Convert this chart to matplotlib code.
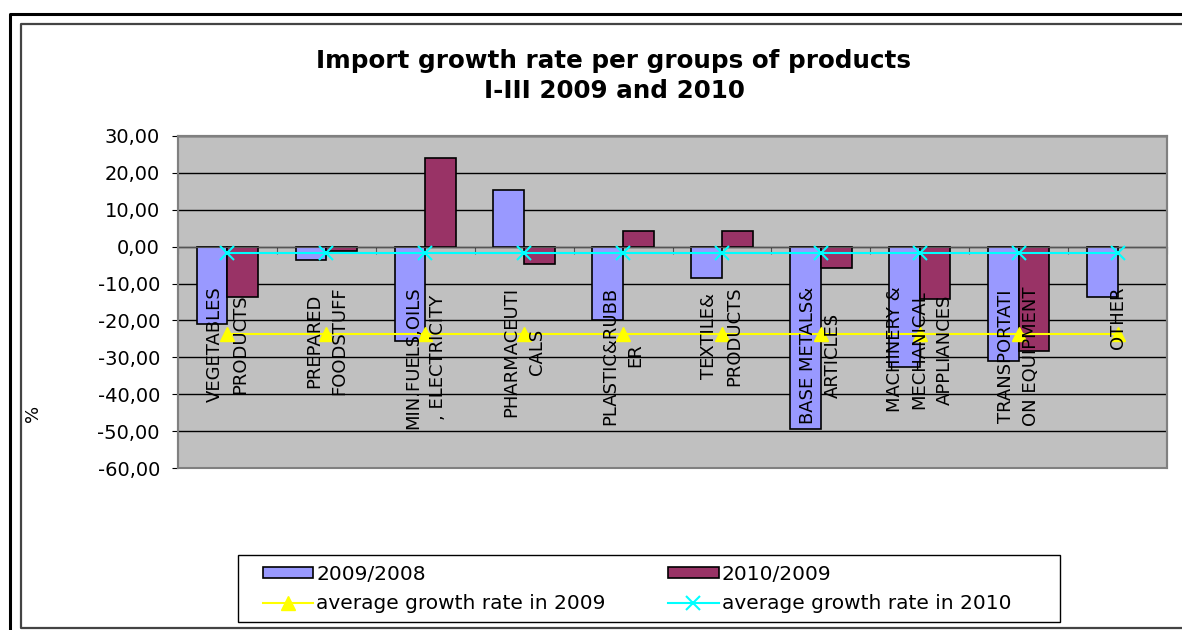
import numpy as np
import matplotlib
matplotlib.use("Agg")
import matplotlib.pyplot as plt
from matplotlib.patches import Rectangle, Patch
from matplotlib.lines import Line2D

# data
categories = ["VEGETABLES\nPRODUCTS", "PREPARED\nFOODSTUFF", "MIN.FUELS,OILS\n, ELECTRICITY",
              "PHARMACEUTI\nCALS", "PLASTIC&RUBB\nER", "TEXTILE&\nPRODUCTS",
              "BASE METALS&\nARTICLES", "MACHINERY &\nMECHANICAL\nAPPLIANCES",
              "TRANSPORTATI\nON EQUIPMENT", "OTHER"]
growth_2009 = [-20.9, -3.7, -25.7, 15.3, -20.0, -8.5, -49.5, -32.5, -31.0, -13.7]
growth_2010 = [-13.7, -1.1, 24.1, -4.8, 4.3, 4.3, -5.8, -14.1, -28.4, np.nan]
avg_2009 = -23.6
avg_2010 = -1.6
y_ticks = [30, 20, 10, 0, -10, -20, -30, -40, -50, -60]

W, H = 1182, 630
fig = plt.figure(figsize=(W / 100, H / 100), dpi=100)
fig.patch.set_facecolor("white")

# chart frame (double border, cropped on the right)
fig.add_artist(Line2D([10 / W, 10 / W, 1.01], [-0.01, 1 - 14 / H, 1 - 14 / H],
                      transform=fig.transFigure, color="black", lw=2.2))
fig.add_artist(Line2D([1.01, 21 / W, 21 / W, 1.01],
                      [1 - 24 / H, 1 - 24 / H, 1 - 628 / H, 1 - 628 / H],
                      transform=fig.transFigure, color="#444444", lw=1.6))

ax = fig.add_axes([178 / W, 1 - 468 / H, (1167 - 178) / W, (468 - 136) / H])
ax.set_facecolor("#C0C0C0")
ax.set_axisbelow(True)

x = np.arange(len(categories))
bw = 0.31
ax.bar(x - bw / 2, growth_2009, bw, color="#9999FF", edgecolor="black", lw=1.2, zorder=2)
ax.bar(x + bw / 2, growth_2010, bw, color="#993366", edgecolor="black", lw=1.2, zorder=2)
ax.plot(x, [avg_2009] * len(x), color="#FFFF00", lw=1.5, marker="^", ms=10, zorder=4)
ax.plot(x, [avg_2010] * len(x), color="#00FFFF", lw=1.5, marker="x", ms=10, mew=1.5, zorder=4)

for i, lab in enumerate(categories):
    ax.text(i, -10.8, lab, rotation=90, ha="center", va="top", multialignment="center",
            fontsize=13, color="black", linespacing=1.5, zorder=5)

ax.set_xlim(-0.5, len(categories) - 0.5)
ax.set_ylim(-60, 30)
ax.set_yticks(y_ticks, labels=[f"{v:.2f}".replace(".", ",") for v in y_ticks])
ax.yaxis.grid(True, color="black", lw=1)
ax.tick_params(axis="y", length=4.5, pad=8.5, labelsize=14, color="black")

# category axis at zero with boundary tick marks
ax.spines["bottom"].set_position(("data", 0))
ax.spines["bottom"].set_color("#555555")
ax.set_xticks(np.arange(-0.5, len(categories), 1))
ax.tick_params(axis="x", length=5, direction="out", labelbottom=False, color="#555555")
for s in ["left", "top", "right"]:
    ax.spines[s].set_color("#808080")
    ax.spines[s].set_linewidth(1.5)
ax.add_patch(Rectangle((0, 0), 1, 1, transform=ax.transAxes, fill=False,
                       edgecolor="#808080", lw=1.5, clip_on=False, zorder=6))

fig.text(33 / W, 1 - 413 / H, "%", rotation=90, ha="center", va="center", fontsize=13)

fig.text(614 / W, 1 - 76 / H, "Import growth rate per groups of products\nI-III 2009 and 2010",
         ha="center", va="center", fontsize=17.7, fontweight="bold", linespacing=1.3)

# legend box drawn separately so the entries can be placed like the original
fig.add_artist(Rectangle((238 / W, 1 - 622 / H), (1060 - 238) / W, 67 / H,
                         transform=fig.transFigure, fill=False, edgecolor="black", lw=1.0))
handles = [Patch(facecolor="#9999FF", edgecolor="black", lw=1.2),
           Line2D([], [], color="#FFFF00", lw=1.5, marker="^", ms=10),
           Patch(facecolor="#993366", edgecolor="black", lw=1.2),
           Line2D([], [], color="#00FFFF", lw=1.5, marker="x", ms=10, mew=1.5)]
labels = ["2009/2008", "average growth rate in 2009", "2010/2009", "average growth rate in 2010"]
fig.legend(handles, labels, ncol=2, loc="center left",
           bbox_to_anchor=(263 / W, 1 - 589 / H),
           fontsize=14.5, frameon=False,
           handlelength=2.5, handleheight=0.45, handletextpad=0.15,
           columnspacing=3.1, labelspacing=0.5, borderpad=0, borderaxespad=0)

fig.savefig("out.png", dpi=100)
